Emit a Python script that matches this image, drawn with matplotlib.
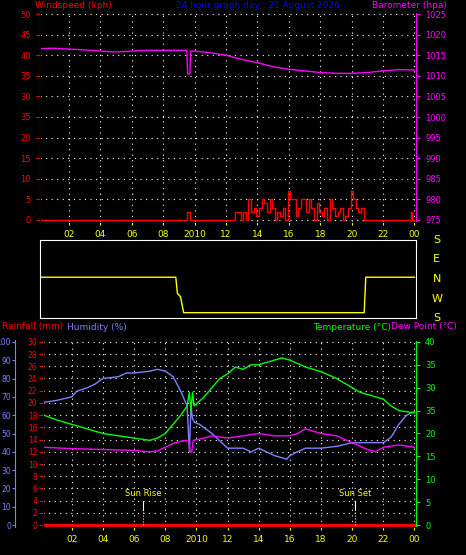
import numpy as np
import matplotlib
matplotlib.use("Agg")
import matplotlib.pyplot as plt

plt.rcParams["font.family"] = "DejaVu Sans"
plt.rcParams["font.size"] = 6.5

W, H = 466, 555

# ── données ──────────────────────────────────────────────────────────────
baro_h = [0.2, 1, 2, 3, 4, 5, 6, 7, 8, 9.5, 9.55, 9.7, 9.75, 10, 11, 12, 13, 14, 15, 16, 17, 18, 19, 20, 21, 22, 23, 24]
baro_v = [1016.6, 1016.7, 1016.5, 1016.3, 1016.0, 1015.8, 1016.0, 1016.2, 1016.2, 1016.2, 1010.5, 1010.5, 1016.0, 1016.0, 1015.6, 1015.0, 1014.0, 1013.2, 1012.2, 1011.6, 1011.2, 1010.8, 1010.6, 1010.6, 1010.8, 1011.2, 1011.5, 1011.4]

wind_h = [0.2, 9.45, 9.5, 9.65, 9.7, 12.5] + list(np.round(np.arange(12.6, 21.0, 1 / 6), 2)) + [23.8, 23.85, 24]
wind_v = [0, 0, 2, 2, 0, 0,
          2, 2, 0, 2, 0, 5, 2, 3, 1, 3, 5, 4, 2, 5, 3, 0, 2, 1, 3, 0, 7, 5, 5, 1, 3, 5,
          5, 2, 5, 3, 0, 4, 2, 1, 3, 0, 5, 3, 1, 2, 3, 0, 1, 3, 7, 5, 3, 2, 3, 0, 0,
          2, 0, 0]
n = min(len(wind_h), len(wind_v))
wind_h, wind_v = wind_h[:n], wind_v[:n]

dir_h = [0.2, 8.8, 8.9, 9.1, 9.3, 20.8, 20.9, 24]
dir_v = [2.1, 2.1, 1.2, 1.0, 0.1, 0.1, 2.1, 2.1]   # 0=S(bas) ... 4=S(haut)

hum_h = [0.2, 1, 1.5, 2, 2.3, 3, 3.5, 4, 5, 5.5, 6, 7, 7.5, 8, 8.5, 9, 9.4, 9.55, 9.65, 9.75, 9.9, 10.2, 11, 11.5, 12, 13, 13.5, 14, 14.5, 15, 15.8, 16, 16.5, 17, 18, 19, 20, 21, 22, 22.5, 23, 23.5, 24]
hum_v = [67, 68, 69, 70, 73, 75, 77, 80, 81, 83, 83, 84, 85, 84, 81, 73, 65, 40, 65, 58, 56, 55, 50, 46, 42, 42, 40, 42, 40, 38, 36, 38, 40, 42, 42, 43, 45, 45, 45, 48, 55, 60, 62]

temp_h = [0.2, 1, 2, 3, 4, 5, 6, 7, 7.5, 8, 8.5, 9, 9.4, 9.55, 9.65, 9.75, 9.85, 10.5, 11, 11.5, 12, 12.5, 13, 13.5, 14, 14.5, 15, 15.5, 16, 17, 18, 19, 20, 20.5, 21, 22, 22.5, 23, 24]
temp_v = [24, 23, 22, 21, 20, 19.5, 19, 18.5, 19, 20, 22, 24, 26, 29, 25, 29, 26, 28, 30, 32, 33, 34.5, 34, 35, 35, 35.5, 36, 36.5, 36, 34.5, 33.5, 32, 30, 29, 28.5, 27.5, 26, 25, 24.5]

dew_h = [0.2, 2, 4, 6, 7, 7.5, 8, 8.5, 9, 9.5, 9.6, 9.7, 9.8, 10.5, 11, 12, 13, 14, 15, 16, 16.5, 17, 18, 19, 20, 21, 21.5, 22, 23, 24]
dew_v = [17, 16.7, 16.5, 16.3, 16, 16.2, 17, 17.8, 18.3, 18.5, 16, 16, 18.5, 19, 19.5, 19, 19.5, 20, 19.5, 19.5, 20, 21, 20, 19.5, 18, 16.5, 16, 17, 17.5, 17]

rain_h = [0.2, 24]
rain_v = [0, 0]

hour_ticks = [2, 4, 6, 8, 10, 12, 14, 16, 18, 20, 22, 24]
hour_labels = ["02", "04", "06", "08", "2010", "12", "14", "16", "18", "20", "22", "00"]
sunrise, sunset = 6.6, 20.2

XLIM = (0.15, 24.1)


def px_axes(fig, x0, y0, x1, y1):
    return fig.add_axes([x0 / W, 1 - y1 / H, (x1 - x0) / W, (y1 - y0) / H])


def style(ax):
    ax.set_facecolor("black")
    for s in ax.spines.values():
        s.set_color("#d0d0d0")
    ax.grid(True, color="white", linestyle=(0, (1, 4)), linewidth=0.8)
    ax.set_xlim(*XLIM)
    ax.set_xticks(hour_ticks)
    ax.set_xticklabels(hour_labels, color="yellow")
    ax.tick_params(axis="x", colors="yellow", labelcolor="yellow", length=2)


fig = plt.figure(figsize=(W / 100, H / 100), dpi=100, facecolor="black")

# ── panneau vent / baromètre ─────────────────────────────────────────────
ax1 = px_axes(fig, 40, 12, 416, 222)
style(ax1)
ax1.step(wind_h, wind_v, where="post", color="red", lw=1)
ax1.set_ylim(-0.5, 50.5)
ax1.set_yticks(range(0, 51, 5))
ax1.set_yticklabels(["0", "5", "10", "15", "20", "35", "30", "35", "40", "45", "50"])
ax1.tick_params(axis="y", colors="red", length=3, labelsize=6)
ax1.spines["left"].set_color("red")
ax1b = ax1.twinx()
ax1b.plot(baro_h, baro_v, color="magenta", lw=1)
ax1b.set_ylim(974.5, 1025.5)
ax1b.set_yticks(range(975, 1026, 5))
ax1b.tick_params(axis="y", colors="magenta", length=3, labelsize=6)
ax1b.spines["right"].set_color("magenta")
fig.text(35 / W, 1 - 5 / H, "Windspeed (kph)", color="red", fontsize=6.5, va="center")
fig.text(258 / W, 1 - 5 / H, "24 hour graph day : 21 August 2026", color="blue", fontsize=6.5, ha="center", va="center")
fig.text(447 / W, 1 - 5 / H, "Barometer (hpa)", color="magenta", fontsize=6.5, ha="right", va="center")

# ── panneau direction ────────────────────────────────────────────────────
ax2 = px_axes(fig, 40, 240, 416, 318)
ax2.set_facecolor("black")
for s in ax2.spines.values():
    s.set_color("white")
ax2.plot(dir_h, dir_v, color="yellow", lw=1)
ax2.set_xlim(*XLIM)
ax2.set_ylim(-0.2, 4.2)
ax2.set_xticks([])
ax2.set_yticks([])
for i, lab in enumerate(["S", "W", "N", "E", "S"]):
    ax2.text(1.055, i / 4, lab, transform=ax2.transAxes, color="yellow", fontsize=8, ha="center", va="center")

# ── panneau température / humidité ───────────────────────────────────────
ax3 = px_axes(fig, 43, 340, 416, 527)
style(ax3)
ax3.plot(rain_h, rain_v, color="red", lw=2.5)
ax3.set_ylim(-0.3, 30.3)
ax3.set_yticks(range(0, 31, 2))
ax3.tick_params(axis="y", colors="red", length=3, labelsize=5.5, pad=1)
ax3.spines["left"].set_color("red")

ax3h = ax3.twinx()
ax3h.spines["left"].set_visible(True)
ax3h.spines["left"].set_position(("outward", 20))
ax3h.spines["left"].set_color("#8080ff")
ax3h.spines["right"].set_visible(False)
ax3h.yaxis.set_ticks_position("left")
ax3h.yaxis.set_label_position("left")
ax3h.plot(hum_h, hum_v, color="#8080ff", lw=1)
ax3h.set_ylim(-1, 101)
ax3h.set_yticks(range(0, 101, 10))
ax3h.tick_params(axis="y", colors="#8080ff", length=2, labelsize=5.5, pad=1)

ax3t = ax3.twinx()
ax3t.plot(temp_h, temp_v, color="#00ff00", lw=1)
ax3t.plot(dew_h, dew_v, color="magenta", lw=1)
ax3t.set_ylim(-0.4, 40.4)
ax3t.set_yticks(range(0, 41, 5))
ax3t.set_yticklabels(["0", "5", "10", "15", "20", "35", "30", "35", "40"])
ax3t.tick_params(axis="y", colors="#00ff00", length=3, labelsize=6)
ax3t.spines["right"].set_color("#00ff00")

for h, lab in [(sunrise, "Sun Rise"), (sunset, "Sun Set")]:
    ax3.plot([h, h], [0, 2.5], color="yellow", lw=0.8, linestyle=":")
    ax3.plot([h, h], [2.5, 4], color="white", lw=0.8)
    ax3.text(h, 5.2, lab, color="yellow", fontsize=6, ha="center", va="center")

fig.text(2 / W, 1 - 327 / H, "Rainfall (mm)", color="red", fontsize=6.5, va="center")
fig.text(67 / W, 1 - 327 / H, "Humidity (%)", color="#8080ff", fontsize=6.5, va="center")
fig.text(391 / W, 1 - 327 / H, "Temperature (°C)", color="#00ff00", fontsize=6.5, ha="right", va="center")
fig.text(391 / W, 1 - 327 / H, "Dew Point (°C)", color="magenta", fontsize=6.5, ha="left", va="center")

fig.savefig("out.png", dpi=100, facecolor="black")
